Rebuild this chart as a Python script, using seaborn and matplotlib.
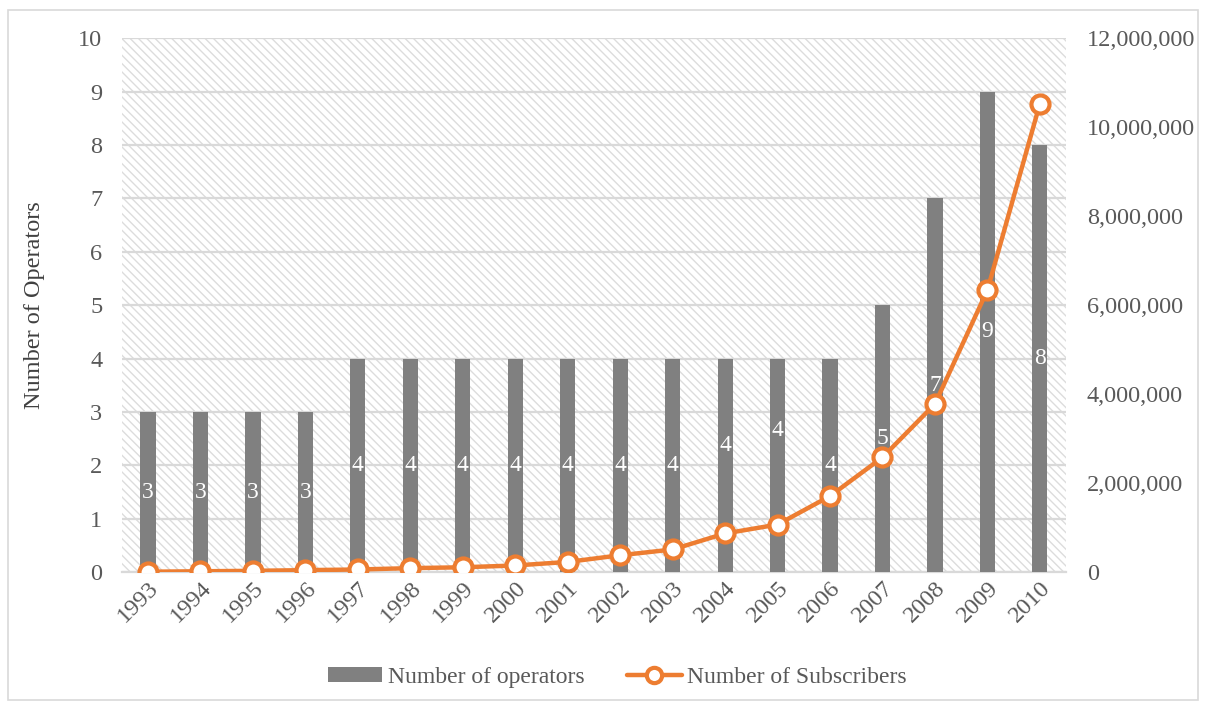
import matplotlib
matplotlib.use("Agg")
import matplotlib.pyplot as plt
from matplotlib.patches import Patch, Rectangle
from matplotlib.lines import Line2D
from matplotlib.ticker import FuncFormatter, MultipleLocator
import numpy as np
import pandas as pd
import seaborn as sns

# Data
years = ["1993", "1994", "1995", "1996", "1997", "1998", "1999", "2000", "2001",
         "2002", "2003", "2004", "2005", "2006", "2007", "2008", "2009", "2010"]
operators = [3, 3, 3, 3, 4, 4, 4, 4, 4, 4, 4, 4, 4, 4, 5, 7, 9, 8]
subscribers = [10000, 20000, 30000, 45000, 60000, 90000, 110000, 150000, 230000,
               380000, 510000, 870000, 1070000, 1710000, 2580000, 3780000,
               6340000, 10530000]

df = pd.DataFrame({"year": years, "operators": operators, "subscribers": subscribers})

GRAY = "#808080"
ORANGE = "#ED7D31"
GRID = "#d9d9d9"
TXT = "#595959"

sns.set_theme(style="white")
plt.rcParams["font.family"] = ["Liberation Serif", "DejaVu Serif"]
plt.rcParams["hatch.color"] = "#dcdcdc"
plt.rcParams["hatch.linewidth"] = 1.0

fig = plt.figure(figsize=(12.06, 7.09), dpi=100)
ax = fig.add_axes([0.101, 0.193, 0.783, 0.753])

# hatched plot background
ax.patch.set_facecolor("white")
ax.patch.set_hatch("\\\\\\\\")
ax.patch.set_edgecolor("#dcdcdc")
ax.patch.set_linewidth(0)

sns.barplot(data=df, x="year", y="operators", color=GRAY, width=0.29,
            saturation=1, ax=ax, zorder=3)
for p in ax.patches:
    p.set_edgecolor("none")

ax.set_ylim(0, 10)
ax.set_xlim(-0.5, len(years) - 0.5)
ax.yaxis.set_major_locator(MultipleLocator(1))
ax.grid(axis="y", color=GRID, linewidth=1.6, zorder=1)
ax.set_axisbelow(True)

# value labels in the middle of each bar (nudged where the line crosses)
nudge = {"2004": 0.38, "2005": 0.66}
for i, (yr, v) in enumerate(zip(years, operators)):
    ax.text(i, v / 2 + nudge.get(yr, 0), str(v), ha="center", va="center",
            color="white", fontsize=17, zorder=4)

for s in ["top", "right", "left"]:
    ax.spines[s].set_visible(False)
ax.spines["bottom"].set_color(GRID)
ax.spines["bottom"].set_linewidth(1.6)

ax.set_xlabel("")
ax.set_ylabel("Number of Operators", fontsize=17.5, color="#404040", labelpad=24)
ax.tick_params(axis="y", length=0, labelsize=17.5, labelcolor=TXT, pad=14)
ax.tick_params(axis="x", which="major", length=0, labelsize=17.5, labelcolor=TXT, pad=4)
ax.set_xticks(np.arange(-0.5, len(years), 1.0), minor=True)
ax.tick_params(axis="x", which="minor", length=7, width=1.6, color=GRID)
for lab in ax.get_xticklabels():
    lab.set_rotation(45)
    lab.set_ha("right")
    lab.set_va("top")
    lab.set_rotation_mode("anchor")

# subscribers on the secondary axis
ax2 = ax.twinx()
sns.lineplot(x=np.arange(len(years)), y=subscribers, ax=ax2, color=ORANGE,
             linewidth=3.2, marker="o", markersize=13, markerfacecolor="white",
             markeredgecolor=ORANGE, markeredgewidth=3, zorder=5)
ax2.set_ylim(0, 12_000_000)
ax2.yaxis.set_major_locator(MultipleLocator(2_000_000))
ax2.yaxis.set_major_formatter(FuncFormatter(lambda v, _: f"{int(v):,}"))
ax2.tick_params(axis="y", length=0, labelsize=17.5, labelcolor=TXT, pad=15)
ax2.set_xlim(-0.5, len(years) - 0.5)
for s in ["top", "right", "left", "bottom"]:
    ax2.spines[s].set_visible(False)
ax2.grid(False)

# legend
handles = [
    Patch(facecolor=GRAY, edgecolor="none", label="Number of operators"),
    Line2D([0], [0], color=ORANGE, linewidth=3.2, marker="o", markersize=11,
           markerfacecolor="white", markeredgecolor=ORANGE, markeredgewidth=3,
           label="Number of Subscribers"),
]
fig.legend(handles=handles, loc="center", bbox_to_anchor=(0.512, 0.045), ncol=2,
           frameon=False, fontsize=17, handlelength=2.3, handleheight=0.65,
           handletextpad=0.25, columnspacing=1.8, labelcolor=TXT)

# chart border
fig.patches.append(Rectangle((8 / 1206, 1 - 700 / 709), 1190 / 1206, 690 / 709,
                             transform=fig.transFigure, fill=False,
                             edgecolor=GRID, linewidth=1.2))

fig.savefig("out.png", dpi=100)
